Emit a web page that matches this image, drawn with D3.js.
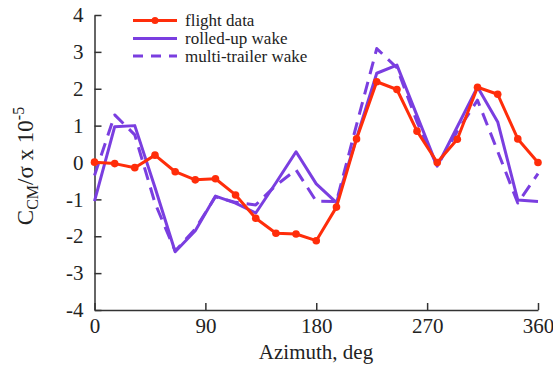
<!DOCTYPE html>
<html>
<head>
<meta charset="utf-8">
<script src="https://cdn.jsdelivr.net/npm/d3@7"></script>
<style>
  html, body { margin: 0; padding: 0; background: #fff; }
</style>
</head>
<body>
<svg id="chart" width="553" height="368"></svg>
<script>
// Azimuth stations, deg
const azimuth = [0, 16.4, 32.7, 49.1, 65.5, 81.8, 98.2, 114.5, 130.9, 147.3, 163.6, 180,
                 196.4, 212.7, 229.1, 245.5, 261.8, 278.2, 294.5, 310.9, 327.3, 343.6, 360];
// C_CM / sigma x 1e-5
const flightData = [0.01, -0.03, -0.14, 0.2, -0.25, -0.47, -0.44, -0.88, -1.51, -1.92, -1.94, -2.12,
                    -1.21, 0.64, 2.19, 1.98, 0.85, 0.0, 0.63, 2.04, 1.85, 0.64, 0.0];
const rolledUpWake = [-1.05, 0.97, 1.0, -0.68, -2.42, -1.85, -0.91, -1.1, -1.37, -0.55, 0.29, -0.58,
                      -1.09, 0.66, 2.42, 2.64, 1.27, -0.1, 0.97, 2.05, 1.1, -1.02, -1.06];
const multiTrailerWake = [-0.35, 1.29, 0.75, -1.1, -2.4, -1.8, -0.93, -1.08, -1.15, -0.62, -0.2, -1.05,
                          -1.06, 1.02, 3.09, 2.57, 1.1, -0.1, 0.85, 1.69, 0.3, -1.1, -0.3];
const xTicks = [0, 90, 180, 270, 360];
const yTicks = [-4, -3, -2, -1, 0, 1, 2, 3, 4];
const seriesNames = ["flight data", "rolled-up wake", "multi-trailer wake"];

const RED = "#ff2d0a";
const PURPLE = "#7a3ee0";
const FONT = "'Liberation Serif', 'Times New Roman', Times, serif";

const svg = d3.select("#chart");
const x = d3.scaleLinear().domain([0, 360]).range([94.5, 538]);
const y = d3.scaleLinear().domain([-4, 4]).range([310, 15]);

// axes with inward ticks; plain hyphen for negatives
const fmt = d => String(d);
const xAxis = svg.append("g").attr("transform", `translate(0,${y(-4)})`)
  .call(d3.axisBottom(x).tickValues(xTicks).tickFormat(fmt)
    .tickSizeInner(-7).tickSizeOuter(0).tickPadding(8));
const yAxis = svg.append("g").attr("transform", `translate(${x(0)},0)`)
  .call(d3.axisLeft(y).tickValues(yTicks).tickFormat(fmt)
    .tickSizeInner(-7).tickSizeOuter(0).tickPadding(11));
[xAxis, yAxis].forEach(g => {
  g.attr("font-family", null);
  g.selectAll("path.domain").attr("stroke", "#333").attr("stroke-width", 1.5);
  g.selectAll(".tick line").attr("stroke", "#333").attr("stroke-width", 1.5);
  g.selectAll(".tick text").attr("font-size", 21).attr("fill", "#222")
    .style("font-family", FONT);
});

const line = d3.line().x((d, i) => x(azimuth[i])).y(d => y(d));

svg.append("path").datum(multiTrailerWake)
  .attr("fill", "none").attr("stroke", PURPLE).attr("stroke-width", 3)
  .attr("stroke-dasharray", "13,8").attr("stroke-linejoin", "round")
  .attr("d", line);
svg.append("path").datum(rolledUpWake)
  .attr("fill", "none").attr("stroke", PURPLE).attr("stroke-width", 3)
  .attr("stroke-linejoin", "round").attr("d", line);
svg.append("path").datum(flightData)
  .attr("fill", "none").attr("stroke", RED).attr("stroke-width", 3)
  .attr("stroke-linejoin", "round").attr("d", line);
svg.append("g").selectAll("circle").data(flightData).join("circle")
  .attr("cx", (d, i) => x(azimuth[i])).attr("cy", d => y(d))
  .attr("r", 3.8).attr("fill", RED);

// legend
const legend = svg.append("g");
const rows = [20.5, 38.5, 56];
seriesNames.forEach((name, i) => {
  const g = legend.append("g").attr("transform", `translate(0,${rows[i]})`);
  g.append("line").attr("x1", 133).attr("x2", 177).attr("y1", 0).attr("y2", 0)
    .attr("stroke", i === 0 ? RED : PURPLE).attr("stroke-width", 3)
    .attr("stroke-dasharray", i === 2 ? "10,8" : null);
  if (i === 0) g.append("circle").attr("cx", 155).attr("cy", 0).attr("r", 3.5).attr("fill", RED);
  g.append("text").attr("x", 185).attr("y", 5.5).attr("font-size", 17)
    .attr("fill", "#222").style("font-family", FONT).text(name);
});

// axis titles
svg.append("text").attr("x", 316).attr("y", 359).attr("text-anchor", "middle")
  .attr("font-size", 21).attr("fill", "#222").style("font-family", FONT).text("Azimuth, deg");

const yt = svg.append("text").attr("transform", `translate(33,166) rotate(-90)`)
  .attr("text-anchor", "middle").attr("font-size", 23).attr("fill", "#222")
  .style("font-family", FONT);
yt.append("tspan").text("C");
yt.append("tspan").attr("font-size", 16).attr("dy", 5).text("CM");
yt.append("tspan").attr("dy", -5).text("/σ x 10");
yt.append("tspan").attr("font-size", 16).attr("dy", -9).text("-5");
</script>
</body>
</html>
